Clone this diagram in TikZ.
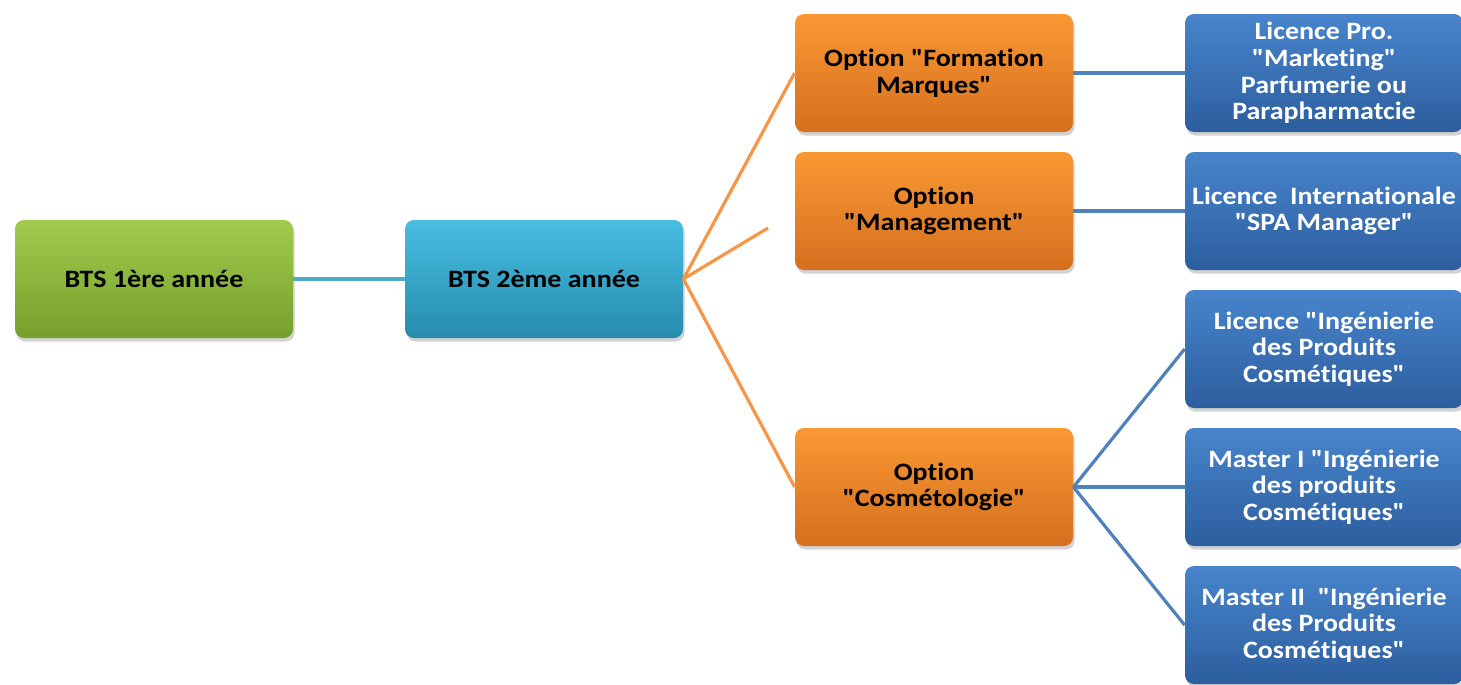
\documentclass[tikz,border=0pt]{standalone}
\usepackage{fontspec}
\setmainfont{Carlito}[Ligatures={TeXOff,NoCommon}, FakeStretch=1.12]
\usetikzlibrary{shadows}
\definecolor{gtop}{RGB}{162,202,78}
\definecolor{gbot}{RGB}{118,160,44}
\definecolor{ctop}{RGB}{72,190,226}
\definecolor{cbot}{RGB}{38,140,172}
\definecolor{otop}{RGB}{250,152,52}
\definecolor{obot}{RGB}{212,112,30}
\definecolor{btop}{RGB}{72,132,204}
\definecolor{bbot}{RGB}{44,94,158}
\definecolor{lteal}{RGB}{75,172,198}
\definecolor{lorange}{RGB}{247,150,70}
\definecolor{lblue}{RGB}{79,129,189}
\tikzset{
  box/.style={rectangle, rounded corners=4.5pt, minimum width=139pt, minimum height=59pt,
    inner sep=1pt, align=center, font=\fontsize{12.5}{13.3}\selectfont\bfseries,
    drop shadow={opacity=0.35, shadow xshift=0.8pt, shadow yshift=-1.8pt}},
  greenbox/.style={box, top color=gtop, bottom color=gbot, text=black},
  cyanbox/.style={box, top color=ctop, bottom color=cbot, text=black},
  orangebox/.style={box, top color=otop, bottom color=obot, text=black},
  bluebox/.style={box, top color=btop, bottom color=bbot, text=white},
  tealline/.style={draw=lteal, line width=2pt},
  orangeline/.style={draw=lorange, line width=1.6pt},
  blueline/.style={draw=lblue, line width=1.6pt}
}
\begin{document}
\begin{tikzpicture}[x=0.5pt, y=-0.5pt]
\useasboundingbox[fill=white] (0,0) rectangle (1461,685);
\node[greenbox] (bts1) at (154,279) {BTS 1ère année};
\node[cyanbox] (bts2) at (544,279) {BTS 2ème année};
\node[orangebox] (optf) at (934,73) {Option "Formation\\Marques"};
\node[orangebox] (optm) at (934,211) {Option\\"Management"};
\node[orangebox] (optc) at (934,487) {Option\\"Cosmétologie"};
\node[bluebox] (lp) at (1324,73) {Licence Pro.\\"Marketing"\\Parfumerie ou\\Parapharmatcie};
\node[bluebox] (li) at (1324,211) {Licence~~Internationale\\"SPA Manager"};
\node[bluebox] (lic) at (1324,349) {Licence "Ingénierie\\des Produits\\Cosmétiques"};
\node[bluebox] (m1) at (1324,487) {Master I "Ingénierie\\des produits\\Cosmétiques"};
\node[bluebox] (m2) at (1324,625) {Master II~~"Ingénierie\\des Produits\\Cosmétiques"};
\coordinate (mend) at (768,228);
\draw[tealline] (bts1.east) -- (bts2.west);
\draw[orangeline] (bts2.east) -- (optf.west);
\draw[orangeline] (bts2.east) -- (mend);
\draw[orangeline] (bts2.east) -- (optc.west);
\draw[blueline] (optf.east) -- (lp.west);
\draw[blueline] (optm.east) -- (li.west);
\draw[blueline] (optc.east) -- (lic.west);
\draw[blueline] (optc.east) -- (m1.west);
\draw[blueline] (optc.east) -- (m2.west);
\end{tikzpicture}
\end{document}
